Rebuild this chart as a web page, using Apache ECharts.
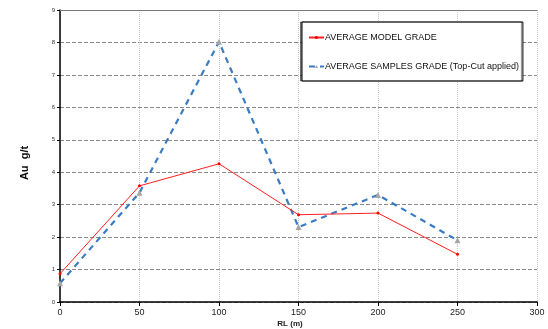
<!DOCTYPE html>
<html>
<head>
<meta charset="utf-8">
<script src="https://cdn.jsdelivr.net/npm/echarts@6/dist/echarts.min.js"></script>
<style>html,body{margin:0;padding:0;background:#fff}#c{width:548px;height:329px}</style>
</head>
<body>
<div id="c"></div>
<script>
var rl = [0, 50, 100, 150, 200, 250];
var modelGrade = [0.87, 3.58, 4.26, 2.69, 2.74, 1.47];
var samplesGrade = [0.58, 3.37, 8.02, 2.31, 3.3, 1.9];
var modelName = 'AVERAGE MODEL GRADE';
var samplesName = 'AVERAGE SAMPLES GRADE (Top-Cut applied)';
var xTicks = [0, 50, 100, 150, 200, 250, 300];
var yTicks = [0, 1, 2, 3, 4, 5, 6, 7, 8, 9];

function pairs(xs, ys) { return xs.map(function (x, i) { return [x, ys[i]]; }); }

var chart = echarts.init(document.getElementById('c'));
chart.setOption({
  animation: false,
  backgroundColor: '#fff',
  textStyle: { fontFamily: 'Liberation Sans, Arial, sans-serif' },
  grid: { left: 60, right: 11, top: 10, bottom: 27, containLabel: false },
  xAxis: [{
    type: 'value', min: 0, max: 300, interval: 50,
    axisLine: { show: true, lineStyle: { color: '#000', width: 1.5 } },
    axisTick: { show: true, length: 4, lineStyle: { color: '#000' } },
    axisLabel: { color: '#222', fontSize: 9, margin: 6 },
    splitLine: { show: true, lineStyle: { color: '#c8c8c8', type: [1, 1], width: 1 } }
  }, {
    type: 'value', min: 0, max: 300, position: 'top',
    axisLine: { show: true, onZero: false, lineStyle: { color: '#777', width: 1 } },
    axisTick: { show: false }, axisLabel: { show: false }, splitLine: { show: false }
  }],
  yAxis: {
    type: 'value', min: 0, max: 9, interval: 1,
    axisLine: { show: true, lineStyle: { color: '#000', width: 1.5 } },
    axisTick: { show: true, length: 3, lineStyle: { color: '#000' } },
    axisLabel: { color: '#333', fontSize: 6, margin: 5 },
    splitLine: { show: true, lineStyle: { color: '#8a8a8a', type: [4, 2], width: 1 } }
  },
  legend: {
    orient: 'vertical', left: 302, top: 22,
    padding: [11, 4, 10, 6], itemGap: 20, itemWidth: 15, itemHeight: 4,
    backgroundColor: '#fff', borderColor: '#000', borderWidth: 1,
    shadowColor: 'rgba(0,0,0,0.45)', shadowOffsetX: -1.5, shadowOffsetY: 0, shadowBlur: 0,
    textStyle: { color: '#111', fontSize: 9, padding: [0, 0, 0, -4] },
    data: [modelName, samplesName]
  },
  graphic: [
    { type: 'text', x: 25, y: 163, rotation: Math.PI / 2, style: { text: 'Au  g/t', x: 0, y: 0, font: 'bold 11px Liberation Sans, Arial', fill: '#111', textAlign: 'center', textVerticalAlign: 'middle' } },
    { type: 'text', style: { text: 'RL (m)', x: 290, y: 324, font: 'bold 8px Liberation Sans, Arial', fill: '#222', textAlign: 'center', textVerticalAlign: 'middle' } }
  ],
  series: [{
    name: modelName, type: 'line', data: pairs(rl, modelGrade),
    symbol: 'circle', symbolSize: 3, showSymbol: true,
    lineStyle: { color: '#ff2020', width: 1 },
    itemStyle: { color: '#ff0000' }, z: 3
  }, {
    name: samplesName, type: 'line', data: pairs(rl, samplesGrade),
    symbol: 'triangle', symbolSize: 6,
    lineStyle: { color: '#3a7cc2', width: 2.2, type: [6, 5] },
    itemStyle: { color: '#a6a6a6' }, z: 2
  }]
});
</script>
</body>
</html>
